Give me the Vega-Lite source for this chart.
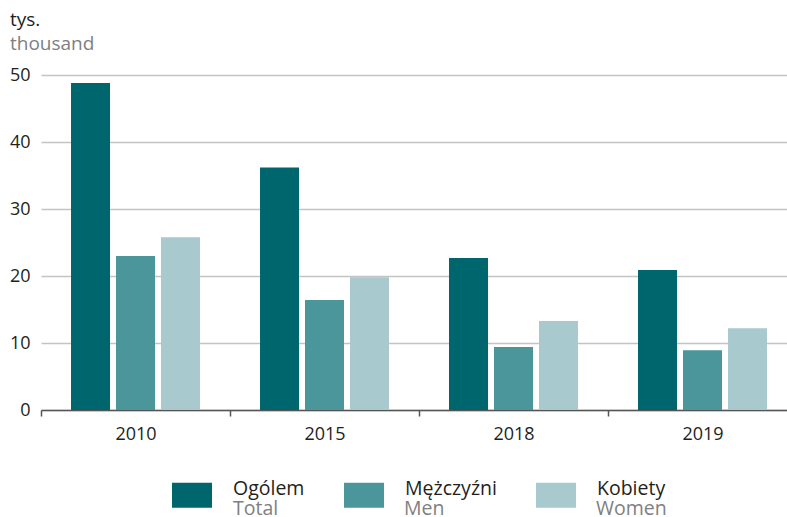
{
  "$schema": "https://vega.github.io/schema/vega-lite/v6.json",
  "autosize": "none",
  "width": 746,
  "height": 335,
  "padding": {"left": 41, "top": 75, "right": 0, "bottom": 107},
  "background": "white",
  "title": {
    "text": "tys.",
    "subtitle": "thousand",
    "anchor": "start",
    "frame": "group",
    "dx": -31,
    "offset": 12,
    "font": "Open Sans",
    "fontSize": 19,
    "fontWeight": "normal",
    "color": "#231f20",
    "subtitleFont": "Open Sans",
    "subtitleFontSize": 19,
    "subtitleColor": "#7f7f7f",
    "subtitlePadding": 5
  },
  "data": {
    "values": [
      {"year": "2010", "grupa": "Ogólem", "group": "Total", "value": 48.8},
      {"year": "2010", "grupa": "Mężczyźni", "group": "Men", "value": 23.0},
      {"year": "2010", "grupa": "Kobiety", "group": "Women", "value": 25.8},
      {"year": "2015", "grupa": "Ogólem", "group": "Total", "value": 36.2},
      {"year": "2015", "grupa": "Mężczyźni", "group": "Men", "value": 16.4},
      {"year": "2015", "grupa": "Kobiety", "group": "Women", "value": 19.8},
      {"year": "2018", "grupa": "Ogólem", "group": "Total", "value": 22.7},
      {"year": "2018", "grupa": "Mężczyźni", "group": "Men", "value": 9.4},
      {"year": "2018", "grupa": "Kobiety", "group": "Women", "value": 13.3},
      {"year": "2019", "grupa": "Ogólem", "group": "Total", "value": 20.9},
      {"year": "2019", "grupa": "Mężczyźni", "group": "Men", "value": 8.9},
      {"year": "2019", "grupa": "Kobiety", "group": "Women", "value": 12.2}
    ]
  },
  "mark": {"type": "bar"},
  "encoding": {
    "x": {
      "field": "year",
      "type": "nominal",
      "scale": {"range": [0, 756], "paddingInner": 0, "paddingOuter": 0},
      "axis": {
        "title": null,
        "labelAngle": 0,
        "tickBand": "extent",
        "tickSize": 6,
        "tickColor": "#555555",
        "tickWidth": 1.5,
        "domainColor": "#555555",
        "domainWidth": 1.5,
        "labelFont": "Open Sans",
        "labelFontSize": 18,
        "labelColor": "#231f20",
        "labelPadding": 9,
        "grid": false
      }
    },
    "xOffset": {
      "field": "grupa",
      "type": "nominal",
      "scale": {"domain": ["Ogólem", "Mężczyźni", "Kobiety"], "paddingInner": 0.133, "paddingOuter": 0.667}
    },
    "y": {
      "field": "value",
      "type": "quantitative",
      "scale": {"domain": [0, 50], "nice": false},
      "axis": {
        "title": null,
        "values": [0, 10, 20, 30, 40, 50],
        "domain": false,
        "ticks": false,
        "labelFont": "Open Sans",
        "labelFontSize": 18,
        "labelColor": "#231f20",
        "labelPadding": 11,
        "gridColor": "#c4c4c4",
        "gridWidth": 1.5
      }
    },
    "color": {
      "field": "grupa",
      "type": "nominal",
      "scale": {"domain": ["Ogólem", "Mężczyźni", "Kobiety"], "range": ["#00666e", "#4a969b", "#a8c9cd"]},
      "legend": {
        "title": null,
        "orient": "none",
        "direction": "horizontal",
        "columns": 3,
        "legendX": 131,
        "legendY": 400,
        "padding": 0,
        "symbolType": "M-1,-0.625H1V0.625H-1Z",
        "symbolSize": 1600,
        "symbolStrokeWidth": 0,
        "labelFont": "Open Sans",
        "labelFontSize": 19.5,
        "labelColor": "#231f20",
        "labelBaseline": "alphabetic",
        "labelOffset": 21,
        "columnPadding": 39
      }
    },
    "opacity": {
      "field": "group",
      "type": "nominal",
      "scale": {"type": "ordinal", "domain": ["Total", "Men", "Women"], "range": [1, 1, 1]},
      "legend": {
        "title": null,
        "orient": "none",
        "direction": "horizontal",
        "columns": 3,
        "legendX": 131,
        "legendY": 420,
        "padding": 0,
        "symbolType": "M-1,-0.625H1V0.625H-1Z",
        "symbolSize": 1600,
        "symbolOpacity": 0,
        "symbolFillColor": "transparent",
        "symbolStrokeColor": "transparent",
        "symbolStrokeWidth": 0,
        "labelFont": "Open Sans",
        "labelFontSize": 19.5,
        "labelColor": "#7f7f7f",
        "labelBaseline": "alphabetic",
        "labelOffset": 21,
        "columnPadding": 39,
        "labelExpr": "datum.label == 'Total' ? 'Total\u00a0\u00a0\u00a0\u00a0\u00a0\u200b' : datum.label == 'Men' ? 'Men\u00a0\u00a0\u00a0\u00a0\u00a0\u00a0\u00a0\u00a0\u00a0\u00a0\u200b' : datum.label",
        "encode": {"symbols": {"update": {"opacity": {"value": 0}, "fill": {"value": "transparent"}, "stroke": {"value": "transparent"}}}}
      }
    }
  },
  "config": {"view": {"stroke": null}}
}
